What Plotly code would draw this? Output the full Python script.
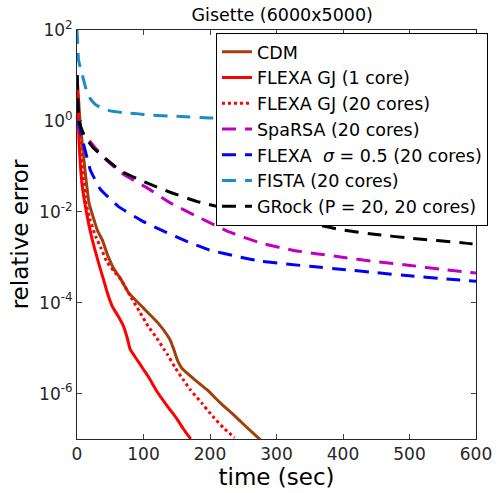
import plotly.graph_objects as go

# ---- data (time in sec, relative error) ----
cdm_t = [0, 2, 5, 8, 11, 14, 18, 25, 31, 38, 46, 56, 65, 78, 100, 122, 135, 141, 146, 152, 158, 175, 195, 215, 238, 258, 276]
cdm_e = [10**v for v in [1.0, 0.55, -0.1, -0.5, -0.95, -1.35, -1.8, -2.15, -2.42, -2.62, -2.95, -3.27, -3.46, -3.79, -4.12, -4.45, -4.7, -4.85, -5.05, -5.3, -5.45, -5.67, -5.91, -6.2, -6.5, -6.78, -7.02]]

gj1_t = [0, 1, 2, 3, 4, 5, 8, 13.6, 18, 23, 30, 38, 46, 53, 62, 70, 76, 80, 90, 100, 107, 120, 136, 150, 160, 171]
gj1_e = [10**v for v in [1.0, 0.5, 0.0, -0.45, -0.7, -0.95, -1.45, -1.96, -2.3, -2.62, -3.0, -3.4, -3.8, -4.08, -4.3, -4.52, -4.8, -5.03, -5.25, -5.47, -5.62, -5.95, -6.28, -6.55, -6.78, -7.0]]

gj20_t = [0, 2, 5, 9, 13.6, 20, 28, 36, 45, 55, 66, 83, 95, 107, 120, 131, 136, 148, 160, 170, 187, 204, 220, 237]
gj20_e = [10**v for v in [1.0, 0.3, -0.6, -1.2, -1.81, -2.2, -2.54, -2.8, -3.1, -3.3, -3.49, -3.93, -4.22, -4.52, -4.78, -5.03, -5.14, -5.44, -5.7, -5.91, -6.2, -6.5, -6.75, -6.97]]

sparsa_t = [0, 2, 5, 10, 14.6, 25, 44, 67, 106, 140, 180, 230, 277, 326, 399, 450, 501, 550, 600]
sparsa_e = [10**v for v in [1.0, 0.1, -0.2, -0.3, -0.36, -0.55, -0.86, -1.15, -1.48, -1.8, -2.1, -2.45, -2.69, -2.85, -3.0, -3.1, -3.18, -3.27, -3.35]]

flexa_t = [0, 2, 5, 7, 16, 20, 35, 62, 99, 131, 165, 199, 240, 277, 350, 400, 450, 500, 550, 600]
flexa_e = [10**v for v in [1.0, 0.0, -0.2, -0.35, -0.86, -1.08, -1.5, -1.88, -2.21, -2.43, -2.65, -2.84, -2.98, -3.09, -3.2, -3.27, -3.34, -3.41, -3.47, -3.53]]

fista_t = [0, 1, 2.3, 7.3, 14.6, 19.4, 27, 36, 50, 70, 90, 107, 150, 200, 300, 400, 500, 600]
fista_e = [10**v for v in [2.0, 1.7, 1.34, 1.05, 0.65, 0.5, 0.37, 0.29, 0.22, 0.18, 0.16, 0.13, 0.1, 0.066, 0.035, 0.01, -0.005, -0.015]]

grock_t = [0, 1, 2.3, 5, 12, 25, 39, 67, 106, 140, 180, 230, 292, 350, 399, 450, 500, 584, 600]
grock_e = [10**v for v in [1.0, 0.6, 0.1, -0.1, -0.35, -0.6, -0.78, -1.11, -1.37, -1.57, -1.77, -1.95, -2.1, -2.25, -2.4, -2.5, -2.58, -2.69, -2.72]]

x_ticks = [0, 100, 200, 300, 400, 500, 600]
y_ticks = [1e-6, 1e-4, 1e-2, 1e0, 1e2]
y_tick_text = ["10<sup>-6</sup>", "10<sup>-4</sup>", "10<sup>-2</sup>", "10<sup>0</sup>", "10<sup>2</sup>"]

series = [
    ("CDM", cdm_t, cdm_e, "#A0410D", "solid"),
    ("FLEXA GJ (1 core)", gj1_t, gj1_e, "#FF0000", "solid"),
    ("FLEXA GJ (20 cores)", gj20_t, gj20_e, "#FF0000", "3px,3px"),
    ("SpaRSA (20 cores)", sparsa_t, sparsa_e, "#BF00BF", "14px,9px"),
    ("FLEXA  <i>σ</i> = 0.5 (20 cores)", flexa_t, flexa_e, "#0000FF", "14px,9px"),
    ("FISTA (20 cores)", fista_t, fista_e, "#1A8CCC", "14px,9px"),
    ("GRock (P = 20, 20 cores)", grock_t, grock_e, "#000000", "14px,9px"),
]

fig = go.Figure()
for name, t, e, c, d in series:
    fig.add_trace(go.Scatter(x=t, y=e, mode="lines", name=name,
                             line=dict(color=c, width=3, dash=d, shape="spline", smoothing=0.4)))

FONT = "DejaVu Sans, sans-serif"
axcol = "#262626"
fig.update_layout(
    width=504, height=493,
    margin=dict(l=77, r=16, t=30, b=53),
    paper_bgcolor="white", plot_bgcolor="white",
    font=dict(family=FONT, size=17, color=axcol),
    title=dict(text="Gisette (6000x5000)", x=0.56, xanchor="center", y=0.969, yanchor="middle",
               font=dict(size=17.5, color="#000000")),
    legend=dict(x=1.03, xanchor="right", y=0.993, yanchor="top", bgcolor="white",
                bordercolor="#000000", borderwidth=1, font=dict(size=17.5, color="#000000"),
                tracegroupgap=0, itemwidth=30),
    showlegend=True,
)
fig.update_xaxes(range=[0, 600], tickvals=x_ticks, ticks="inside", ticklen=5,
                 showline=True, linecolor=axcol, linewidth=1, mirror="ticks",
                 showgrid=False, zeroline=False,
                 title=dict(text="time (sec)", font=dict(size=23, color="#000000"), standoff=0))
fig.update_yaxes(type="log", range=[-7, 2], tickvals=y_ticks, ticktext=y_tick_text,
                 ticks="inside", ticklen=5, showline=True, linecolor=axcol, linewidth=1,
                 mirror="ticks", showgrid=False, zeroline=False,
                 title=dict(text="relative error", font=dict(size=23, color="#000000"), standoff=4))

fig.write_html("out.html")
